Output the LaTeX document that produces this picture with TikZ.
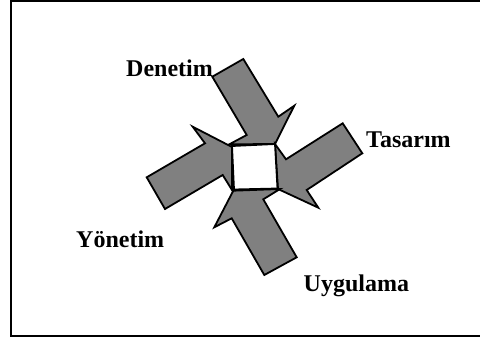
\documentclass[tikz,border=0pt]{standalone}
\usepackage{fontspec}
\setmainfont{Liberation Serif}
\begin{document}
\begin{tikzpicture}[x=1pt,y=-1pt,
  blockarrow/.style={draw=black,fill=black!50,line width=1.8pt,line join=miter},
  centerbox/.style={draw=black,fill=white,line width=1.8pt,line join=miter},
  lbl/.style={inner sep=0pt,anchor=base west,font=\fontsize{24}{28}\selectfont\bfseries}]
\useasboundingbox (0,0) rectangle (480,341);
% frame
\draw[line width=2pt] (490,1) -- (11,1) -- (11,336) -- (490,336);
% arrows
\fill[blockarrow] (212.3,76.7) -- (243.3,59) -- (278.3,116.7) -- (294.3,105.7) -- (275,144) -- (229.3,144.3) -- (246.7,135) -- cycle;
\fill[blockarrow] (342.7,123.3) -- (362.3,153.3) -- (306.7,190) -- (318.3,207.7) -- (278,189) -- (275,144) -- (286,159.3) -- cycle;
\fill[blockarrow] (296.7,257.3) -- (264.3,275) -- (231.7,218.3) -- (214.3,227.3) -- (233.3,190.7) -- (280,189) -- (263.3,199.3) -- cycle;
\fill[blockarrow] (146.7,177.3) -- (165,209) -- (222.7,175) -- (232,190) -- (232,147) -- (192.7,126.7) -- (205,143.3) -- cycle;
% centre square
\draw[centerbox] (232,146) -- (275,144) -- (277.5,188.5) -- (234,189.5) -- cycle;
% labels
\node[lbl] (denetim) at (126,76.7) {Denetim};
\node[lbl] (tasarim) at (366,147.7) {Tasarım};
\node[lbl] (yonetim) at (76,247.7) {Yönetim};
\node[lbl] (uygulama) at (303.5,291.7) {Uygulama};
\end{tikzpicture}
\end{document}
